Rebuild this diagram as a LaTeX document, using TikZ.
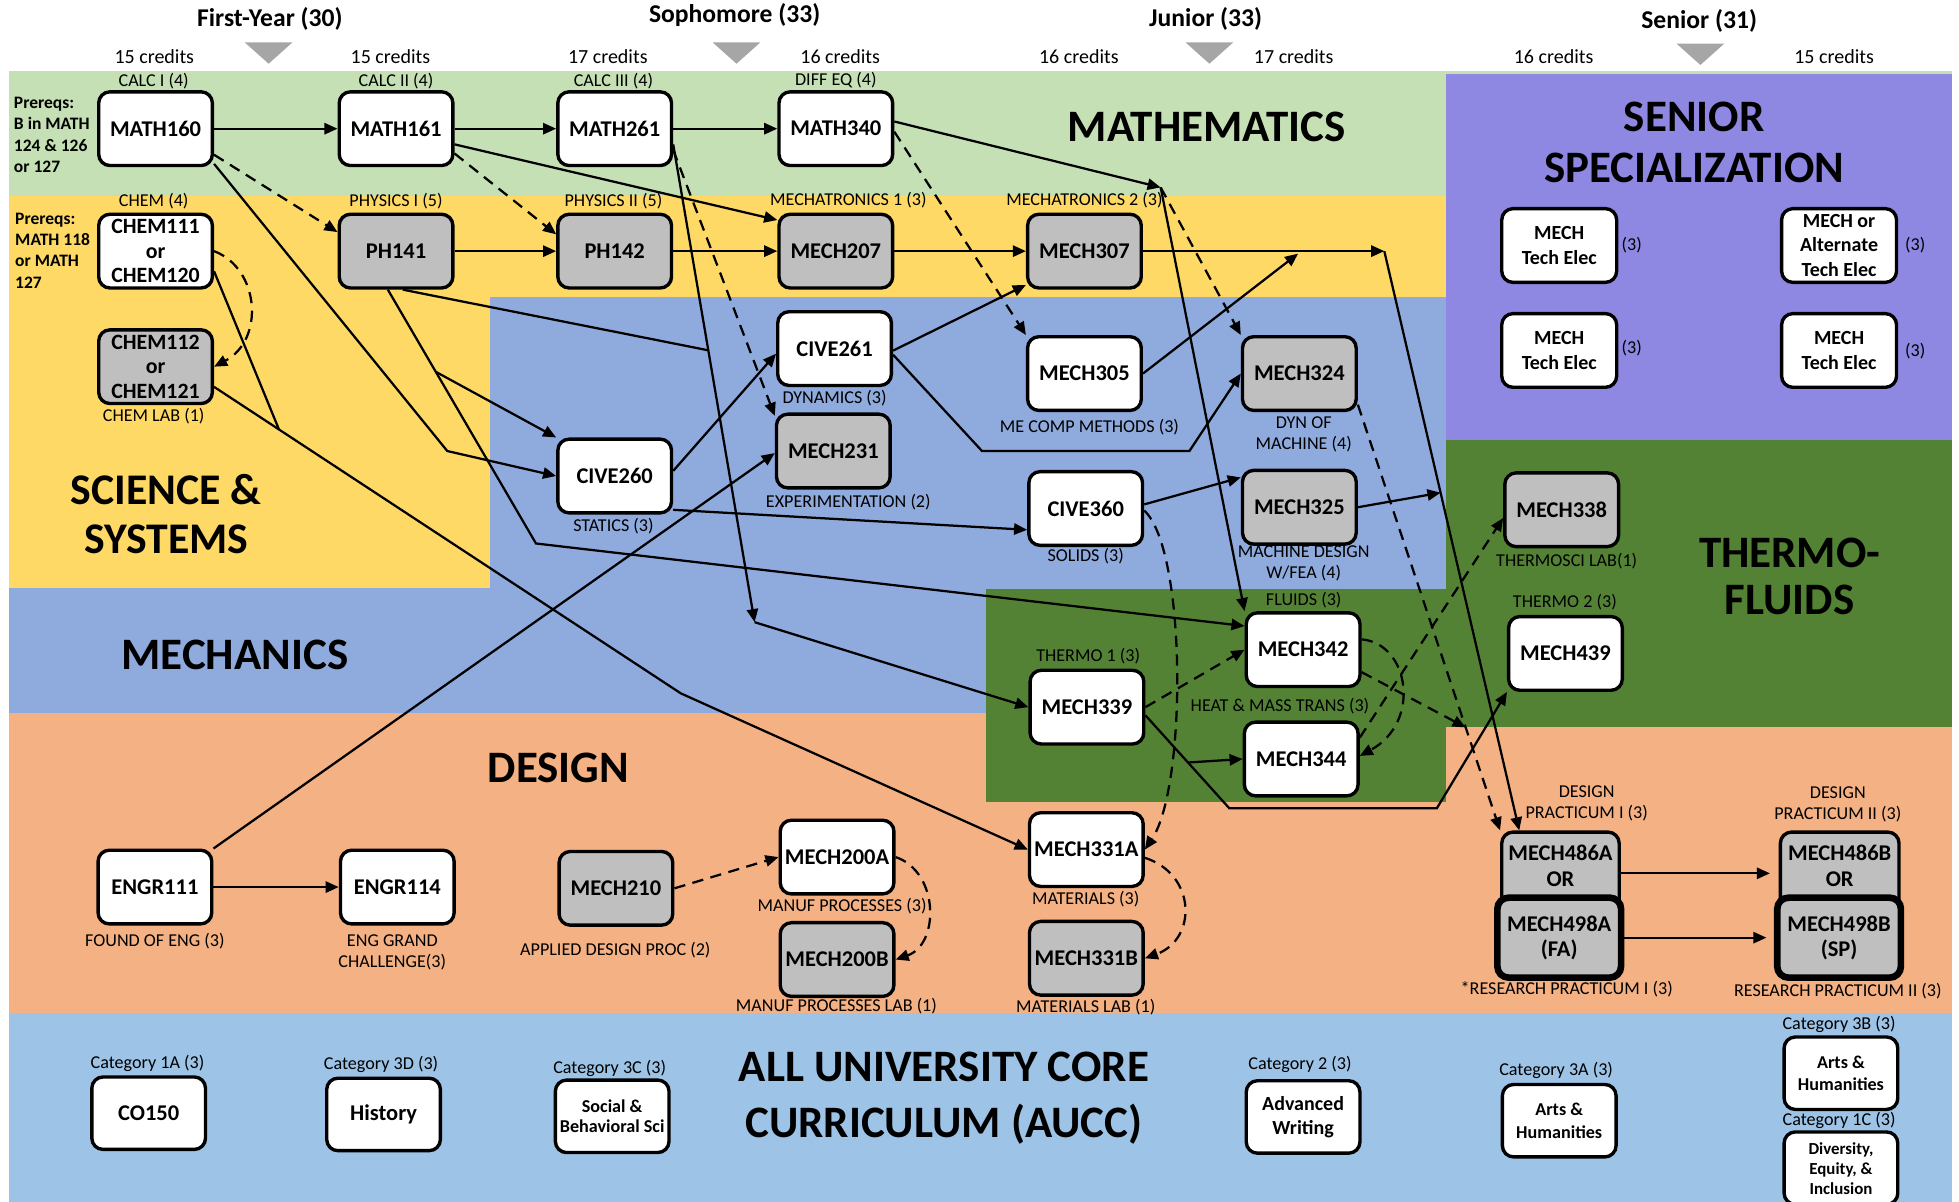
\documentclass[tikz,border=0pt]{standalone}
\usepackage{fontspec}
\setmainfont{Carlito}
\usetikzlibrary{arrows.meta,calc}
\definecolor{cMath}{HTML}{C5E0B4}
\definecolor{cSci}{HTML}{FFD966}
\definecolor{cMech}{HTML}{8FAADC}
\definecolor{cSen}{HTML}{8E88E2}
\definecolor{cTherm}{HTML}{548235}
\definecolor{cDes}{HTML}{F4B183}
\definecolor{cCore}{HTML}{9DC3E6}
\definecolor{cGray}{HTML}{BFBFBF}
\definecolor{cTri}{HTML}{A6A6A6}
\tikzset{
  course/.style={draw=black, line width=2.7pt, rounded corners=9pt, fill=white, minimum width=91pt, minimum height=59pt, inner sep=1pt, align=center, font=\fontsize{18}{20}\selectfont\bfseries},
  labcourse/.style={course, fill=cGray},
  elec/.style={course, minimum width=92pt, font=\fontsize{16}{19.5}\selectfont\bfseries},
  core/.style={course, minimum width=91pt, minimum height=58pt, font=\fontsize{16}{19.5}\selectfont\bfseries},
  lbl/.style={inner sep=0pt, align=center, font=\fontsize{14.5}{16.7}\selectfont},
  cred/.style={inner sep=0pt, font=\fontsize{16}{18}\selectfont},
  yearhd/.style={inner sep=0pt, font=\fontsize{20.5}{23}\selectfont\bfseries},
  area/.style={inner sep=0pt, align=center, font=\fontsize{36}{41}\selectfont\bfseries},
  prereq/.style={inner sep=0pt, align=left, anchor=west, font=\fontsize{14}{17}\selectfont\bfseries},
  lineonly/.style={line width=1.8pt},
  arrowline/.style={line width=1.8pt, -{Triangle[length=10.5pt,width=9pt]}},
  dashline/.style={arrowline, dash pattern=on 9pt off 6pt},
}
\begin{document}
\begin{tikzpicture}[x=1pt,y=-1pt]
\useasboundingbox (0,0) rectangle (1568,962);
% ---------- background bands ----------
\fill[cDes] (7,571) rectangle (1562,811);
\fill[cMech] (392,238) rectangle (1157,471.5);
\fill[cMech] (7,471) rectangle (789,571);
\fill[cSci] (7,157) rectangle (1157,238);
\fill[cSci] (7,238) rectangle (392,471);
\fill[cMath] (7,57) rectangle (1562,157);
\fill[cSen] (1157,59) rectangle (1562,352);
\fill[cTherm] (789,471.5) rectangle (1157,642);
\fill[cTherm] (1157,352) rectangle (1562,582);
\fill[cCore] (7,811) rectangle (1562,970);
% ---------- year headers ----------
\node[yearhd] (yr1) at (216,15.5) {First-Year (30)};
\node[yearhd] (yr2) at (588,12) {Sophomore (33)};
\node[yearhd] (yr3) at (965,15.5) {Junior (33)};
\node[yearhd] (yr4) at (1360,16.5) {Senior (31)};
\fill[cTri] (196,34) -- (234,34) -- (215,51) -- cycle;
\fill[cTri] (570.5,34) -- (608.5,34) -- (589.5,51) -- cycle;
\fill[cTri] (949,34) -- (987,34) -- (968,51) -- cycle;
\fill[cTri] (1342,35) -- (1380,35) -- (1361,52) -- cycle;
\node[cred] (cr1) at (123.5,45.5) {15 credits};
\node[cred] (cr2) at (312.5,45.5) {15 credits};
\node[cred] (cr3) at (486.5,45.5) {17 credits};
\node[cred] (cr4) at (672.5,45.5) {16 credits};
\node[cred] (cr5) at (863.5,45.5) {16 credits};
\node[cred] (cr6) at (1035.5,45.5) {17 credits};
\node[cred] (cr7) at (1243.5,45.5) {16 credits};
\node[cred] (cr8) at (1468,45.5) {15 credits};
% ---------- area titles ----------
\node[area] (tMath) at (966,101.5) {MATHEMATICS};
\node[area] (tSen) at (1356,114) {SENIOR\\SPECIALIZATION};
\node[area, font=\fontsize{35}{39}\selectfont\bfseries] (tSci) at (133,411.5) {SCIENCE \&\\SYSTEMS};
\node[area] (tMech) at (188,524.5) {MECHANICS};
\node[area, font=\fontsize{36}{37.5}\selectfont\bfseries] (tTherm) at (1432.5,461.5) {THERMO-\\FLUIDS};
\node[area] (tDes) at (447,615) {DESIGN};
\node[area, font=\fontsize{36}{45.5}\selectfont\bfseries] (tCore) at (755.5,879) {ALL UNIVERSITY CORE\\CURRICULUM (AUCC)};
% ---------- prereq notes ----------
\node[prereq] (pre1) at (11,108) {Prereqs:\\B in MATH\\124 \& 126\\or 127};
\node[prereq] (pre2) at (12,200.5) {Prereqs:\\MATH 118\\or MATH\\127};
% ---------- course labels ----------
\node[lbl] (lCalc1) at (123,65) {CALC I (4)};
\node[lbl] (lCalc2) at (317,65) {CALC II (4)};
\node[lbl] (lCalc3) at (491,65) {CALC III (4)};
\node[lbl] (lDiffEq) at (669,64) {DIFF EQ (4)};
\node[lbl] (lChem) at (123,161) {CHEM (4)};
\node[lbl] (lPhys1) at (317,161) {PHYSICS I (5)};
\node[lbl] (lPhys2) at (491,161) {PHYSICS II (5)};
\node[lbl] (lMtr1) at (679,160) {MECHATRONICS 1 (3)};
\node[lbl] (lMtr2) at (868,160) {MECHATRONICS 2 (3)};
\node[lbl] (lChemLab) at (123,333) {CHEM LAB (1)};
\node[lbl] (lDyn) at (668,318.5) {DYNAMICS (3)};
\node[lbl] (lExp) at (679,402) {EXPERIMENTATION (2)};
\node[lbl] (lStat) at (491,421.5) {STATICS (3)};
\node[lbl] (lComp) at (872,341.5) {ME COMP METHODS (3)};
\node[lbl] (lDynMach) at (1043.5,348) {DYN OF\\MACHINE (4)};
\node[lbl] (lSolids) at (869,445.5) {SOLIDS (3)};
\node[lbl] (lMachDes) at (1043.5,451) {MACHINE DESIGN\\W/FEA (4)};
\node[lbl] (lFluids) at (1043.5,480) {FLUIDS (3)};
\node[lbl] (lThermo1) at (871,525) {THERMO 1 (3)};
\node[lbl] (lHeat) at (1024.5,565) {HEAT \& MASS TRANS (3)};
\node[lbl] (lThermoLab) at (1254,449) {THERMOSCI LAB(1)};
\node[lbl] (lThermo2) at (1252.5,482) {THERMO 2 (3)};
\node[lbl] (lFound) at (124,753.5) {FOUND OF ENG (3)};
\node[lbl] (lGrand) at (314,762) {ENG GRAND\\CHALLENGE(3)};
\node[lbl] (lApplied) at (492.5,760.5) {APPLIED DESIGN PROC (2)};
\node[lbl] (lManuf) at (674,725.5) {MANUF PROCESSES (3)};
\node[lbl] (lManufLab) at (669.5,805.5) {MANUF PROCESSES LAB (1)};
\node[lbl] (lMat) at (869,720) {MATERIALS (3)};
\node[lbl] (lMatLab) at (869,806) {MATERIALS LAB (1)};
\node[lbl] (lDP1) at (1270,643) {DESIGN\\PRACTICUM I (3)};
\node[lbl] (lDP2) at (1471,643.5) {DESIGN\\PRACTICUM II (3)};
\node[lbl] (lRP1) at (1254,792) {*RESEARCH PRACTICUM I (3)};
\node[lbl] (lRP2) at (1471,793) {RESEARCH PRACTICUM II (3)};
\node[lbl] (lC1A) at (118,851) {Category 1A (3)};
\node[lbl] (lC3D) at (305,852) {Category 3D (3)};
\node[lbl] (lC3C) at (488,855) {Category 3C (3)};
\node[lbl] (lC2) at (1040.5,852) {Category 2 (3)};
\node[lbl] (lC3A) at (1245.5,857) {Category 3A (3)};
\node[lbl] (lC3B) at (1472,820) {Category 3B (3)};
\node[lbl] (lC1C) at (1472,897) {Category 1C (3)};
\node[lbl] (lE1) at (1306,196) {(3)};
\node[lbl] (lE2) at (1306,279) {(3)};
\node[lbl] (lE3) at (1533,196) {(3)};
\node[lbl] (lE4) at (1533,281) {(3)};
% ---------- course boxes ----------
\node[course] (MATH160) at (124.5,103) {MATH160};
\node[course] (MATH161) at (317,103) {MATH161};
\node[course] (MATH261) at (492,103) {MATH261};
\node[course] (MATH340) at (669,103) {MATH340};
\node[course, font=\fontsize{17.5}{19.5}\selectfont\bfseries] (CHEM111) at (124.5,201) {CHEM111\\or\\CHEM120};
\node[labcourse, font=\fontsize{17.5}{19.5}\selectfont\bfseries] (CHEM112) at (124.5,293.5) {CHEM112\\or\\CHEM121};
\node[labcourse] (PH141) at (317,201) {PH141};
\node[labcourse] (PH142) at (492,201) {PH142};
\node[labcourse] (MECH207) at (669,201) {MECH207};
\node[labcourse] (MECH307) at (868,201) {MECH307};
\node[course] (CIVE261) at (668,279) {CIVE261};
\node[labcourse] (MECH231) at (667,361) {MECH231};
\node[course] (CIVE260) at (492,381) {CIVE260};
\node[course] (MECH305) at (868,299) {MECH305};
\node[labcourse] (MECH324) at (1040,299) {MECH324};
\node[course] (CIVE360) at (869,407) {CIVE360};
\node[labcourse] (MECH325) at (1040,406) {MECH325};
\node[course] (MECH342) at (1043,520) {MECH342};
\node[course] (MECH339) at (870,566) {MECH339};
\node[course] (MECH344) at (1041.5,607.5) {MECH344};
\node[labcourse] (MECH338) at (1250,408) {MECH338};
\node[course] (MECH439) at (1253,523) {MECH439};
\node[elec] (TE1) at (1248,196.5) {MECH\\Tech Elec};
\node[elec] (TE2) at (1248,280.5) {MECH\\Tech Elec};
\node[elec] (TE3) at (1472,196.5) {MECH or\\Alternate\\Tech Elec};
\node[elec] (TE4) at (1472,280.5) {MECH\\Tech Elec};
\node[course] (ENGR111) at (124,710) {ENGR111};
\node[course] (ENGR114) at (318,710) {ENGR114};
\node[labcourse] (MECH210) at (493,711) {MECH210};
\node[course] (MECH200A) at (670,686) {MECH200A};
\node[labcourse] (MECH200B) at (670,768) {MECH200B};
\node[course] (MECH331A) at (869.5,680) {MECH331A};
\node[labcourse] (MECH331B) at (869.5,767) {MECH331B};
\node[labcourse, minimum width=94pt, minimum height=66pt] (MECH486A) at (1249,699) {};
\node[inner sep=0pt, align=center, font=\fontsize{18}{20.5}\selectfont\bfseries] (t486A) at (1249,693) {MECH486A\\OR};
\node[labcourse, line width=5.3pt, minimum width=99pt, minimum height=64pt, font=\fontsize{18}{20}\selectfont\bfseries] (MECH498A) at (1248,750.5) {MECH498A\\(FA)};
\node[labcourse, minimum width=95pt, minimum height=66pt] (MECH486B) at (1472.5,699) {};
\node[inner sep=0pt, align=center, font=\fontsize{18}{20.5}\selectfont\bfseries] (t486B) at (1472.5,693) {MECH486B\\OR};
\node[labcourse, line width=5.3pt, minimum width=99pt, minimum height=64pt, font=\fontsize{18}{20}\selectfont\bfseries] (MECH498B) at (1472,750.5) {MECH498B\\(SP)};
% ---------- AUCC boxes ----------
\node[core, font=\fontsize{18}{20}\selectfont\bfseries] (CO150) at (119,891) {CO150};
\node[core, font=\fontsize{18}{20}\selectfont\bfseries] (HIST) at (307,892) {History};
\node[core, font=\fontsize{14.5}{16.5}\selectfont\bfseries] (SOC) at (490,893.5) {Social \&\\Behavioral Sci};
\node[core] (ADVW) at (1043,894) {Advanced\\Writing};
\node[core, font=\fontsize{14.5}{18}\selectfont\bfseries] (ARTS3A) at (1248,897) {Arts \&\\Humanities};
\node[core, font=\fontsize{14.5}{18}\selectfont\bfseries] (ARTS3B) at (1473.5,859) {Arts \&\\Humanities};
\node[core, font=\fontsize{13.5}{16}\selectfont\bfseries] (DEI) at (1473.5,935) {Diversity,\\Equity, \&\\Inclusion};
% ---------- junctions and bends ----------
\coordinate (J1) at (929,150);
\coordinate (J2) at (1108,201);
\coordinate (J6) at (604,498);
\coordinate (J7) at (1039,203);
\coordinate (B1) at (545,555);
\coordinate (B2) at (358,361);
\coordinate (B3) at (429,435);
\coordinate (B4) at (786,361);
\coordinate (B5) at (952,361);
\coordinate (B6) at (984,647);
\coordinate (B7) at (1150,647);
\coordinate (P486) at ($(MECH486A.north)+(-33,0)$);
\coordinate (J8) at ($(J2)!0.417!(P486)$);
\coordinate (J3) at ($(CHEM112.-19)!0.139!(B1)$);
\coordinate (J4) at ($(PH141.-102)!0.3236!(B3)$);
\coordinate (J5) at ($(MATH261.-15)!0.431!(J6)$);
\coordinate (J9) at ($(MECH339.-8)!0.507!(B6)$);
\coordinate (J10) at ($(MECH324.-28)!0.758!(MECH486A.north west)$);
\coordinate (E486B) at ($(MECH486B.west)+(-7,0)$);
\coordinate (E498B) at ($(MECH498B.west)+(-6,0)$);
% ---------- connectors ----------
\draw[arrowline] (MATH160.east) -- (MATH161.west);
\draw[arrowline] (MATH161.east) -- (MATH261.west);
\draw[arrowline] (MATH261.east) -- (MATH340.west);
\draw[dashline] (MATH160.-24) -- (PH141.162);
\draw[dashline] (MATH161.-23) -- (PH142.164);
\draw[arrowline] (MATH161.-15) -- (MECH207.152);
\draw[arrowline] (PH141.east) -- (PH142.west);
\draw[arrowline] (PH142.east) -- (MECH207.west);
\draw[arrowline] (MECH207.east) -- (MECH307.west);
\draw[arrowline] (MECH307.east) -- (J2);
\draw[arrowline] (J2) -- (P486);
\draw[dashline] (MATH261.-20) -- (MECH231.149);
\draw[arrowline] (MATH261.-15) -- (J6);
\draw[arrowline] (J6) -- (MECH339.west);
\draw[arrowline] (MATH340.7) -- (J1);
\draw[arrowline] (J1) -- (MECH342.north west);
\draw[dashline] (MATH340.-3) -- (MECH305.north west);
\draw[dashline] (J1) -- (MECH324.north west);
\draw[arrowline] (CIVE261.-2) -- (MECH307.210);
\draw[arrowline] (CIVE261.-6) -- (B4) -- (B5) -- (MECH324.west);
\draw[arrowline] (MECH305.east) -- (J7);
\draw[arrowline] (CIVE360.4) -- (MECH325.153);
\draw[arrowline] (MECH325.east) -- (J8);
\draw[dashline] (CIVE360.-2) .. controls (950,440) and (950,630) .. (MECH331A.east);
\draw[dashline] (MECH331A.-8) .. controls (958,700) and (958,752) .. (MECH331B.east);
\draw[dashline] (CHEM111.east) .. controls (208,215) and (212,272) .. (CHEM112.east);
\draw[lineonly] (CHEM111.-19) -- (J3);
\draw[arrowline] (CHEM112.-19) -- (B1) -- (MECH331A.west);
\draw[arrowline] (MATH160.-31) -- (B2) -- (CIVE260.west);
\draw[arrowline] (PH141.-102) -- (B3) -- (MECH342.158);
\draw[arrowline] (J4) -- (CIVE260.north west);
\draw[lineonly] (PH141.-80) -- (J5);
\draw[arrowline] (CIVE260.5) -- (CIVE261.185);
\draw[arrowline] (ENGR111.north east) -- (MECH231.182);
\draw[arrowline] (CIVE260.-30) -- (CIVE360.200);
\draw[dashline] (MECH339.east) -- (MECH342.west);
\draw[arrowline] (MECH339.-8) -- (B6) -- (B7) -- (MECH439.south west);
\draw[arrowline] (J9) -- (MECH344.west);
\draw[dashline] (MECH342.10) .. controls (1128,515) and (1138,578) .. (MECH344.3);
\draw[dashline] (MECH344.20) -- (MECH338.188);
\draw[dashline] (MECH342.-21) -- (J10);
\draw[dashline] (MECH324.-28) -- (MECH486A.north west);
\draw[arrowline] (ENGR111.east) -- (ENGR114.west);
\draw[dashline] (MECH210.east) -- (MECH200A.west);
\draw[dashline] (MECH200A.east) .. controls (752,698) and (752,756) .. (MECH200B.east);
\draw[arrowline] (MECH486A.east) -- (E486B);
\draw[arrowline] (MECH498A.east) -- (E498B);
\end{tikzpicture}
\end{document}
